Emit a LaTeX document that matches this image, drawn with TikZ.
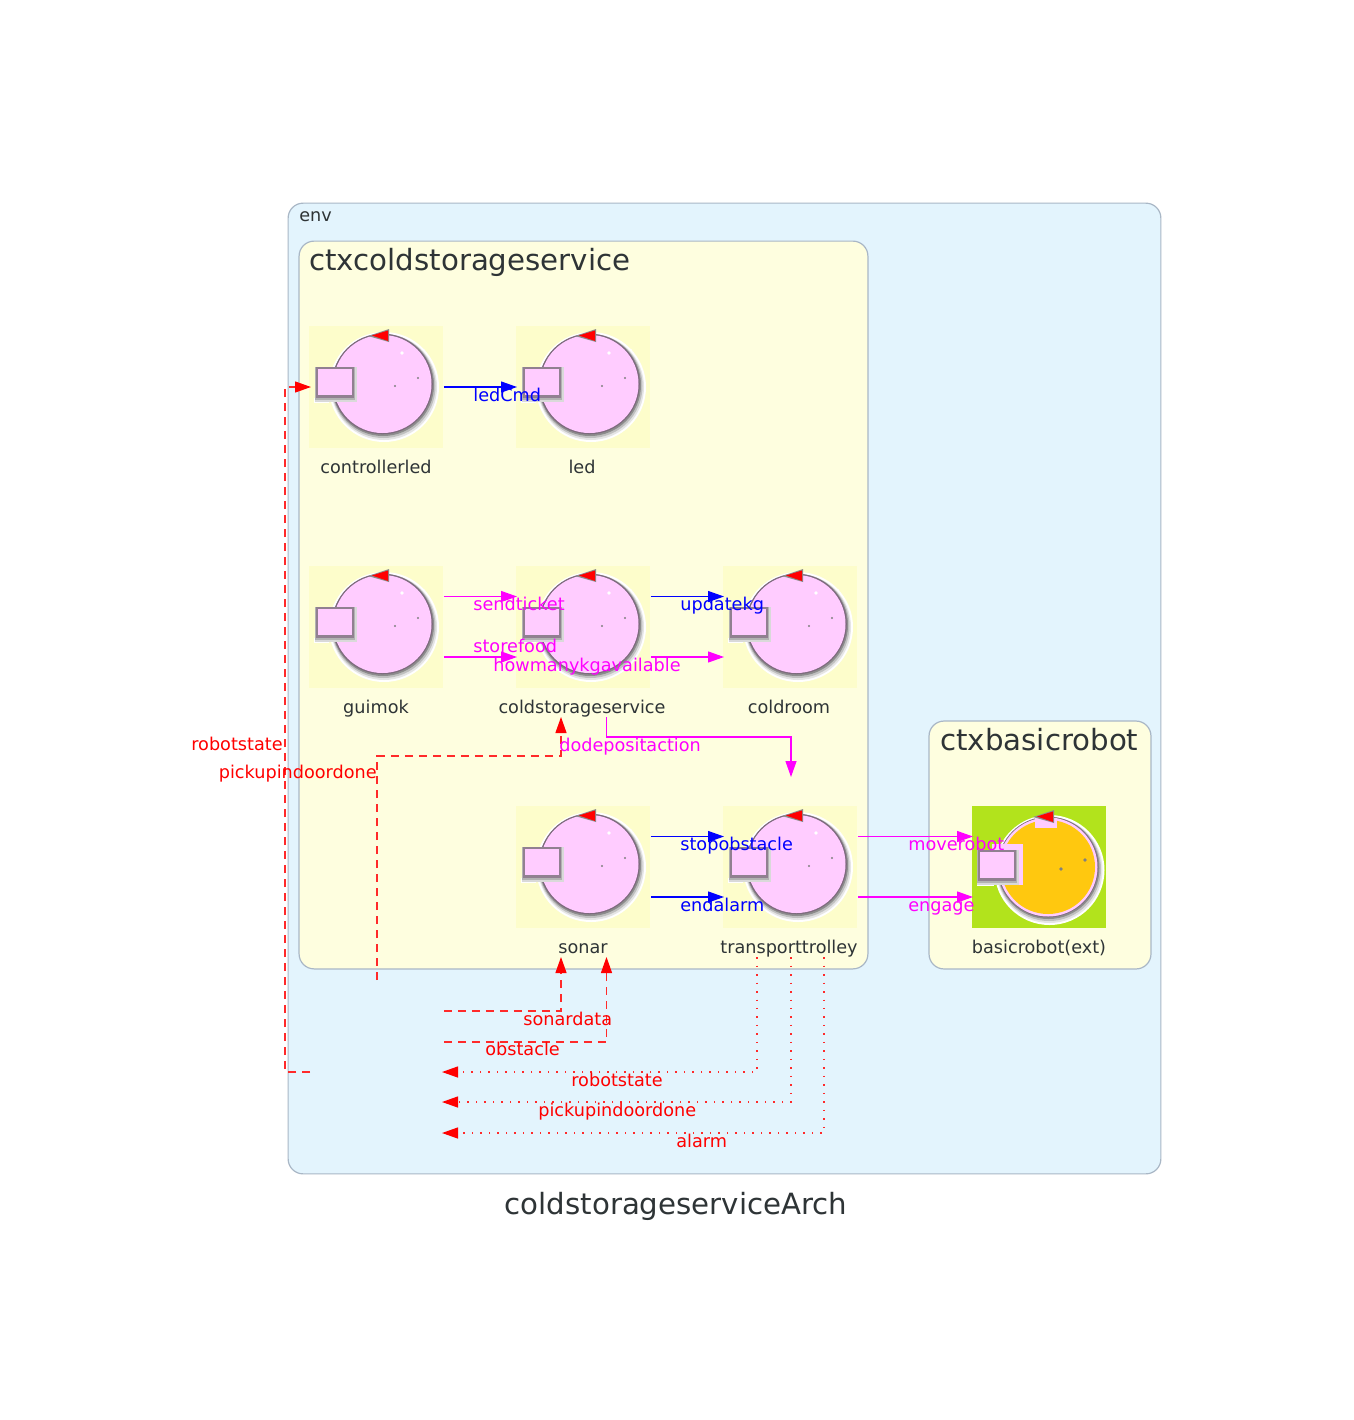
\documentclass[tikz,border=0pt]{standalone}
\usepackage{fontspec}
\setmainfont{DejaVu Sans}
\usetikzlibrary{arrows.meta,calc}
\def\px{0.569pt}
\definecolor{inkc}{HTML}{2E3436}
\definecolor{envfill}{HTML}{E3F4FD}
\definecolor{ctxfill}{HTML}{FEFEDF}
\definecolor{bordc}{HTML}{A9B7C6}
\definecolor{pinkc}{HTML}{FFCCFF}
\definecolor{iconbg}{HTML}{FDFDCB}
\definecolor{robotbg}{HTML}{B2E31C}
\definecolor{robotorange}{HTML}{FFC80F}
\definecolor{rimc}{HTML}{7D6A7D}
\definecolor{magc}{HTML}{FF00FF}
\definecolor{softred}{HTML}{FF2A2A}
\tikzset{
  cluster/.style={draw=bordc,line width=1.2*\px,rounded corners=15*\px,inner sep=0pt,outer sep=0pt},
  smallfont/.style={font=\fontsize{10.05}{12}\selectfont,inner sep=0pt,text height=8.6pt,text depth=0.8pt},
  bigfont/.style={font=\fontsize{16.65}{20}\selectfont,inner sep=0pt,text height=13.5pt,text depth=1.9pt},
  nameLbl/.style={smallfont,text=inkc},
  ctxLbl/.style={bigfont,text=inkc},
  edgeLbl/.style={smallfont},
  actorbox/.style={minimum width=134*\px,minimum height=122*\px,inner sep=0pt,outer sep=0pt},
  conn/.style={line width=1.2*\px,-{Triangle[length=16*\px,width=11*\px]}},
  redconn/.style={softred,line width=1.2*\px,-{Triangle[length=16*\px,width=11*\px,color=red]}},
  dashline/.style={dash pattern=on 8*\px off 6*\px},
  dotline/.style={dash pattern=on 1.5*\px off 7*\px},
}
\newcommand\softshadow{%
  \fill[white] (75,61) circle (55);
  \fill[black!10] (75,61) circle (53);
  \fill[black!25] (74.5,60) circle (52);
  \fill[black!45] (74,59) circle (51);
  \fill[rimc] (73.5,58) circle (50.3);
}
\newcommand\boxshadow{%
  \fill[black!15] (5.5,41) rectangle (47.5,75.5);
  \fill[black!30] (6,41) rectangle (46,74);
  \fill[rimc!85!white] (6.5,41) rectangle (45,72);
}
\newcommand\tipmark{%
  \fill[black!45] (59,10) -- (80,3) -- (80,16) -- cycle;
  \fill[red] (63,9.5) -- (79,4.5) -- (79,15) -- cycle;
}
\newcommand\actoricon[2]{%
  \begin{scope}[shift={(#1,#2)}]
    \fill[iconbg] (0,0) rectangle (134,122);
    \softshadow
    \fill[pinkc] (73.5,58) circle (49);
    \fill[white] (5,72) rectangle (20,77);
    \boxshadow
    \fill[pinkc] (8.5,43) rectangle (43,69);
    \tipmark
    \fill[gray] (86,60) circle (1.2);
    \fill[gray] (109,52) circle (1.2);
    \fill[white] (93,27) circle (1.8);
    \fill[white] (115,24) circle (1);
  \end{scope}
}
\begin{document}
\begin{tikzpicture}[x=0.02cm,y=-0.02cm]
\useasboundingbox (0,0) rectangle (1353,1420);
\fill[white] (0,0) rectangle (1353,1420);
% clusters
\node[cluster,fill=envfill,minimum width=873*\px,minimum height=971*\px] (env) at (724.5,688.5) {};
\node[cluster,fill=ctxfill,minimum width=569*\px,minimum height=728*\px] (ctxa) at (583.5,605) {};
\node[cluster,fill=ctxfill,minimum width=222*\px,minimum height=248*\px] (ctxb) at (1040,845) {};
\node[nameLbl,anchor=west] (envL) at (299,215) {env};
\node[ctxLbl,anchor=west] (ctxaL) at (309,260) {ctxcoldstorageservice};
\node[ctxLbl,anchor=west] (ctxbL) at (940,740) {ctxbasicrobot};
% icons
\actoricon{309}{326}
\actoricon{516}{326}
\actoricon{309}{566}
\actoricon{516}{566}
\actoricon{723}{566}
\actoricon{516}{806}
\actoricon{723}{806}
\begin{scope}[shift={(972,806)}]
  \fill[robotbg] (0,0) rectangle (134,122);
  \begin{scope}[shift={(2.5,3)}]
    \softshadow
    \fill[pinkc] (73.5,58) circle (49.5);
    \fill[robotorange] (73.5,58) circle (47);
  \end{scope}
  \fill[white] (5,74) rectangle (22,80);
  \fill[pinkc] (20,38) rectangle (51,79);
  \fill[pinkc] (63,12) rectangle (85,22);
  \begin{scope}[shift={(-1,3)}]
    \boxshadow
    \fill[pinkc] (8.5,43) rectangle (43,69);
  \end{scope}
  \begin{scope}[shift={(2,1)}]
    \tipmark
  \end{scope}
  \fill[gray] (89,63) circle (1.8);
  \fill[gray] (113,54) circle (1.8);
\end{scope}
% actor nodes
\node[actorbox] (controllerled) at (377,387) {};
\node[actorbox] (led) at (584,387) {};
\node[actorbox] (guimok) at (377,627) {};
\node[actorbox] (coldstorageservice) at (584,627) {};
\node[actorbox] (coldroom) at (791,627) {};
\node[actorbox] (sonar) at (584,867) {};
\node[actorbox] (transporttrolley) at (791,867) {};
\node[actorbox] (basicrobot) at (1040,867) {};
% actor names
\node[nameLbl] (controllerledL) at (376,467) {controllerled};
\node[nameLbl] (ledL) at (582,467) {led};
\node[nameLbl] (guimokL) at (376,707) {guimok};
\node[nameLbl] (coldstorageserviceL) at (582,707) {coldstorageservice};
\node[nameLbl] (coldroomL) at (789,707) {coldroom};
\node[nameLbl] (sonarL) at (583,947) {sonar};
\node[nameLbl] (transporttrolleyL) at (789,947) {transporttrolley};
\node[nameLbl] (basicrobotL) at (1039,947) {basicrobot(ext)};
\node[ctxLbl] (title) at (676,1204) {coldstorageserviceArch};
% free ends and bends
\coordinate (rsStart) at (310,1072);
\coordinate (rsB1) at (285,1072);
\coordinate (rsB2) at (285,387);
\coordinate (rsEnd) at (311,387);
\coordinate (piStart) at (377,980);
\coordinate (piB) at (561,756);
\coordinate (piEnd) at (561,717);
\coordinate (ddStart) at (606.5,717);
\coordinate (ddB) at (791,737);
\coordinate (ddEnd) at (791,777);
\coordinate (sdStart) at (444,1011);
\coordinate (sdB) at (561,1011);
\coordinate (sdEnd) at (561,957);
\coordinate (obStart) at (444,1042);
\coordinate (obB) at (606.5,1042);
\coordinate (obEnd) at (606.5,957);
\coordinate (t1Start) at (757,957);
\coordinate (t1B) at (757,1072);
\coordinate (t1End) at (442,1072);
\coordinate (t2Start) at (791,957);
\coordinate (t2B) at (791,1102);
\coordinate (t2End) at (442,1102);
\coordinate (t3Start) at (824,957);
\coordinate (t3B) at (824,1133);
\coordinate (t3End) at (442,1133);
% connectors
\draw[conn,blue] (controllerled.east) -- (led.west);
\draw[conn,magc] ([yshift=30.5*\px]guimok.east) -- ([yshift=30.5*\px]coldstorageservice.west);
\draw[conn,magc] ([yshift=-30*\px]guimok.east) -- ([yshift=-30*\px]coldstorageservice.west);
\draw[conn,blue] ([yshift=30.5*\px]coldstorageservice.east) -- ([yshift=30.5*\px]coldroom.west);
\draw[conn,magc] ([yshift=-30*\px]coldstorageservice.east) -- ([yshift=-30*\px]coldroom.west);
\draw[conn,blue] ([yshift=30.5*\px]sonar.east) -- ([yshift=30.5*\px]transporttrolley.west);
\draw[conn,blue] ([yshift=-30*\px]sonar.east) -- ([yshift=-30*\px]transporttrolley.west);
\draw[conn,magc] ([yshift=30.5*\px]transporttrolley.east) -- ([yshift=30.5*\px]basicrobot.west);
\draw[conn,magc] ([yshift=-30*\px]transporttrolley.east) -- ([yshift=-30*\px]basicrobot.west);
\draw[conn,magc] (ddStart) |- (ddB) -- (ddEnd);
\draw[redconn,dashline] (rsStart) -- (rsB1) -- (rsB2) -- (rsEnd);
\draw[redconn,dashline] (piStart) |- (piB) -- (piEnd);
\draw[redconn,dashline] (sdStart) -- (sdB) -- (sdEnd);
\draw[redconn,dashline] (obStart) -- (obB) -- (obEnd);
\draw[redconn,dotline] (t1Start) -- (t1B) -- (t1End);
\draw[redconn,dotline] (t2Start) -- (t2B) -- (t2End);
\draw[redconn,dotline] (t3Start) -- (t3B) -- (t3End);
% connector labels
\node[edgeLbl,text=blue,anchor=west] (l1) at (473,395) {ledCmd};
\node[edgeLbl,text=magc,anchor=west] (l2) at (473,604) {sendticket};
\node[edgeLbl,text=magc,anchor=west] (l3) at (473,646) {storefood};
\node[edgeLbl,text=magc,anchor=west] (l4) at (493,665) {howmanykgavailable};
\node[edgeLbl,text=blue,anchor=west] (l5) at (680,604) {updatekg};
\node[edgeLbl,text=magc,anchor=west] (l6) at (559,745) {dodepositaction};
\node[edgeLbl,text=blue,anchor=west] (l7) at (680,844) {stopobstacle};
\node[edgeLbl,text=blue,anchor=west] (l8) at (680,905) {endalarm};
\node[edgeLbl,text=magc,anchor=west] (l9) at (908,844) {moverobot};
\node[edgeLbl,text=magc,anchor=west] (l10) at (908,905) {engage};
\node[edgeLbl,text=red,anchor=east] (l11) at (283,744) {robotstate};
\node[edgeLbl,text=red,anchor=east] (l12) at (377,772) {pickupindoordone};
\node[edgeLbl,text=red,anchor=west] (l13) at (523,1019) {sonardata};
\node[edgeLbl,text=red,anchor=west] (l14) at (485,1049) {obstacle};
\node[edgeLbl,text=red,anchor=west] (l15) at (571,1080) {robotstate};
\node[edgeLbl,text=red,anchor=west] (l16) at (538,1110) {pickupindoordone};
\node[edgeLbl,text=red,anchor=west] (l17) at (676,1141) {alarm};
\end{tikzpicture}
\end{document}
